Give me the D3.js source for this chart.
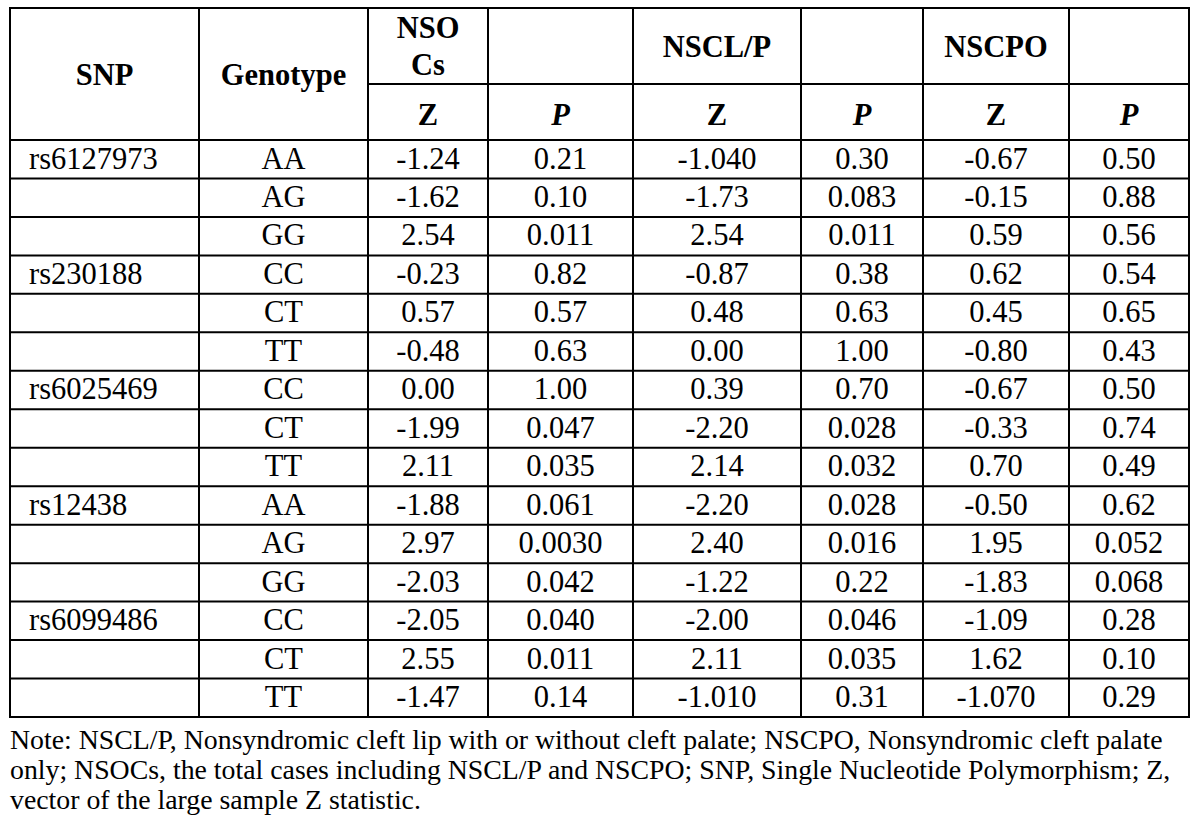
<!DOCTYPE html>
<html>
<head>
<meta charset="utf-8">
<script src="https://cdn.jsdelivr.net/npm/d3@7"></script>
<style>
  body { margin: 0; background: #fff; }
  text { font-family: "Liberation Serif", "Times New Roman", serif; fill: #000; }
</style>
</head>
<body>
<div id="chart"></div>
<script>
// table values, one array per column
const snps      = ["rs6127973", "", "", "rs230188", "", "", "rs6025469", "", "", "rs12438", "", "", "rs6099486", "", ""];
const genotypes = ["AA", "AG", "GG", "CC", "CT", "TT", "CC", "CT", "TT", "AA", "AG", "GG", "CC", "CT", "TT"];
const nsocsZ    = ["-1.24", "-1.62", "2.54", "-0.23", "0.57", "-0.48", "0.00", "-1.99", "2.11", "-1.88", "2.97", "-2.03", "-2.05", "2.55", "-1.47"];
const nsocsP    = ["0.21", "0.10", "0.011", "0.82", "0.57", "0.63", "1.00", "0.047", "0.035", "0.061", "0.0030", "0.042", "0.040", "0.011", "0.14"];
const nsclpZ    = ["-1.040", "-1.73", "2.54", "-0.87", "0.48", "0.00", "0.39", "-2.20", "2.14", "-2.20", "2.40", "-1.22", "-2.00", "2.11", "-1.010"];
const nsclpP    = ["0.30", "0.083", "0.011", "0.38", "0.63", "1.00", "0.70", "0.028", "0.032", "0.028", "0.016", "0.22", "0.046", "0.035", "0.31"];
const nscpoZ    = ["-0.67", "-0.15", "0.59", "0.62", "0.45", "-0.80", "-0.67", "-0.33", "0.70", "-0.50", "1.95", "-1.83", "-1.09", "1.62", "-1.070"];
const nscpoP    = ["0.50", "0.88", "0.56", "0.54", "0.65", "0.43", "0.50", "0.74", "0.49", "0.62", "0.052", "0.068", "0.28", "0.10", "0.29"];

const groupHeaders = [["NSO", "Cs"], [], ["NSCL/P"], [], ["NSCPO"], []];
const subHeaders = ["Z", "P", "Z", "P", "Z", "P"];
const noteLines = [
    "Note: NSCL/P, Nonsyndromic cleft lip with or without cleft palate; NSCPO, Nonsyndromic cleft palate",
    "only; NSOCs, the total cases including NSCL/P and NSCPO; SNP, Single Nucleotide Polymorphism; Z,",
    "vector of the large sample Z statistic."
];

// layout
const colEdges = [10, 199, 368, 488, 633, 801, 923, 1069, 1189];
const tableTop = 8, headSplit = 84, headBottom = 140, tableBottom = 717;
const FONT = 30.5;
const NOTE_FONT = 27.8;

const columns = [snps, genotypes, nsocsZ, nsocsP, nsclpZ, nsclpP, nscpoZ, nscpoP];
const rowIdx = d3.range(genotypes.length);

const svg = d3.select("#chart")
    .append("svg")
    .attr("width", 1200)
    .attr("height", 829);

const yScale = d3.scaleBand()
    .domain(rowIdx)
    .range([headBottom, tableBottom]);

const mid = i => (colEdges[i] + colEdges[i + 1]) / 2;

// header: SNP, Genotype span both header rows
svg.append("text")
    .attr("x", mid(0)).attr("y", 85)
    .attr("text-anchor", "middle")
    .attr("font-weight", "bold").attr("font-size", FONT)
    .text("SNP");
svg.append("text")
    .attr("x", mid(1)).attr("y", 85)
    .attr("text-anchor", "middle")
    .attr("font-weight", "bold").attr("font-size", FONT)
    .text("Genotype");

groupHeaders.forEach((lines, j) => {
    const c = j + 2;
    lines.forEach((ln, k) => {
        svg.append("text")
            .attr("x", mid(c))
            .attr("y", lines.length > 1 ? 38 + k * 37 : 57)
            .attr("text-anchor", "middle")
            .attr("font-weight", "bold").attr("font-size", FONT)
            .text(ln);
    });
});

subHeaders.forEach((s, j) => {
    svg.append("text")
        .attr("x", mid(j + 2)).attr("y", 125)
        .attr("text-anchor", "middle")
        .attr("font-weight", "bold").attr("font-size", FONT)
        .attr("font-style", s === "P" ? "italic" : "normal")
        .text(s);
});

// body cells
columns.forEach((col, c) => {
    svg.selectAll(".cell" + c)
        .data(col)
        .enter()
        .append("text")
        .attr("class", "cell" + c)
        .attr("x", c === 0 ? colEdges[0] + 19 : mid(c))
        .attr("y", (d, i) => yScale(i) + 28.5)
        .attr("text-anchor", c === 0 ? "start" : "middle")
        .attr("font-size", FONT)
        .text(d => d);
});

// grid lines
const grid = svg.append("g")
    .attr("stroke", "#000")
    .attr("stroke-width", 2);

// horizontal lines in body
grid.selectAll(".hline")
    .data(rowIdx.slice(1))
    .enter()
    .append("line")
    .attr("x1", colEdges[0]).attr("x2", colEdges[8])
    .attr("y1", d => yScale(d)).attr("y2", d => yScale(d));

grid.append("line").attr("x1", colEdges[0]).attr("x2", colEdges[8]).attr("y1", headBottom).attr("y2", headBottom);
grid.append("line").attr("x1", colEdges[2]).attr("x2", colEdges[8]).attr("y1", headSplit).attr("y2", headSplit);

// vertical lines
grid.selectAll(".vline")
    .data(colEdges.slice(1, -1))
    .enter()
    .append("line")
    .attr("x1", d => d).attr("x2", d => d)
    .attr("y1", tableTop).attr("y2", tableBottom);

grid.append("rect")
    .attr("x", colEdges[0]).attr("y", tableTop)
    .attr("width", colEdges[8] - colEdges[0])
    .attr("height", tableBottom - tableTop)
    .attr("fill", "none");

// note
svg.selectAll(".note")
    .data(noteLines)
    .enter()
    .append("text")
    .attr("class", "note")
    .attr("x", 10)
    .attr("y", (d, i) => 749 + i * 30)
    .attr("font-size", NOTE_FONT)
    .text(d => d);
</script>
</body>
</html>
